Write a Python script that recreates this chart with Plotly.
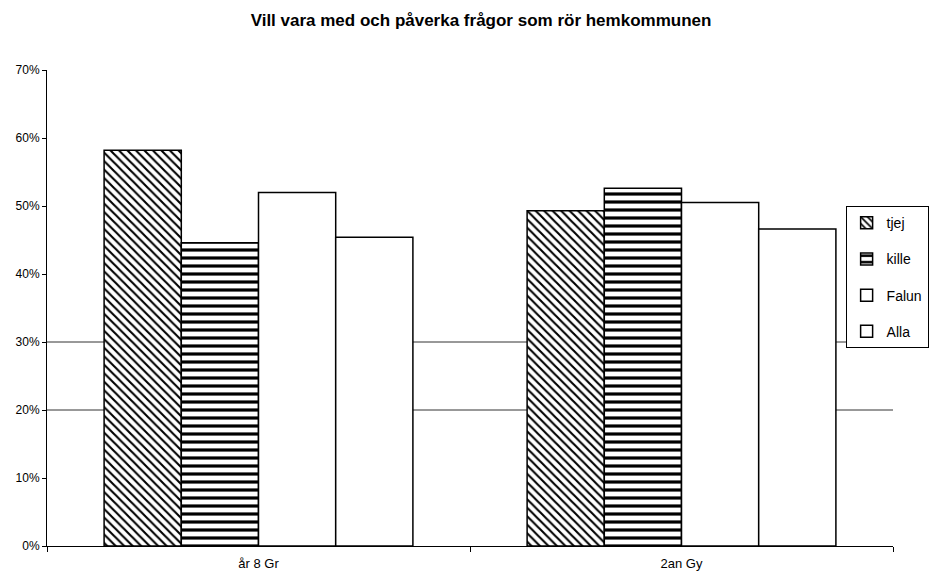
import plotly.graph_objects as go

categories = ["år 8 Gr", "2an Gy"]
series_names = ["tjej", "kille", "Falun", "Alla"]
tjej = [0.582, 0.493]
kille = [0.446, 0.526]
falun = [0.520, 0.505]
alla = [0.454, 0.466]
values = [tjej, kille, falun, alla]
y_ticks = [0, 0.1, 0.2, 0.3, 0.4, 0.5, 0.6, 0.7]
y_tick_labels = ["0%", "10%", "20%", "30%", "40%", "50%", "60%", "70%"]

patterns = [
    dict(shape="\\", size=6, solidity=0.35, fgcolor="black", bgcolor="white", fillmode="replace"),
    dict(shape="-", size=8, solidity=0.4, fgcolor="black", bgcolor="white", fillmode="replace"),
    dict(shape="", fgcolor="black", bgcolor="white"),
    dict(shape="", fgcolor="black", bgcolor="white"),
]

fig = go.Figure()
for i, (name, vals) in enumerate(zip(series_names, values)):
    fig.add_trace(go.Bar(
        x=categories, y=vals, name=name,
        legendgroup=name,
        marker=dict(color="white", pattern=patterns[i],
                    line=dict(color="black", width=1.5)),
    ))

for g in [0.2, 0.3]:
    fig.add_shape(type="line", xref="paper", yref="y", x0=0, x1=1, y0=g, y1=g,
                  line=dict(color="#333", width=1), layer="below")

fig.update_layout(
    width=946, height=578,
    paper_bgcolor="white", plot_bgcolor="white",
    barmode="group", bargap=0.27, bargroupgap=0,
    margin=dict(l=39, r=61, t=62, b=40, autoexpand=False),
    font=dict(family="Liberation Sans, Arial, sans-serif", color="black", size=12),
    title=dict(text="<b>Vill vara med och påverka frågor som rör hemkommunen</b>",
               x=0.5, xanchor="center", y=0.979, yanchor="middle",
               font=dict(size=17, family="Liberation Sans, Arial, sans-serif")),
    showlegend=True,
    legend=dict(x=0.944, xanchor="left", y=0.714, yanchor="top",
                bordercolor="black", borderwidth=1, bgcolor="white",
                font=dict(size=14), traceorder="grouped", tracegroupgap=15,
                itemwidth=30),
    xaxis=dict(showline=True, linecolor="black", linewidth=1,
               ticks="outside", tickson="boundaries", ticklen=5, tickcolor="black",
               ticklabelstandoff=5,
               showgrid=False, tickfont=dict(size=13)),
    yaxis=dict(range=[0, 0.7], tickvals=y_ticks, ticktext=y_tick_labels,
               showline=True, linecolor="black", linewidth=1,
               ticks="outside", ticklen=4, tickcolor="black",
               showgrid=False, zeroline=False, tickfont=dict(size=12)),
)

fig.write_html("out.html")
